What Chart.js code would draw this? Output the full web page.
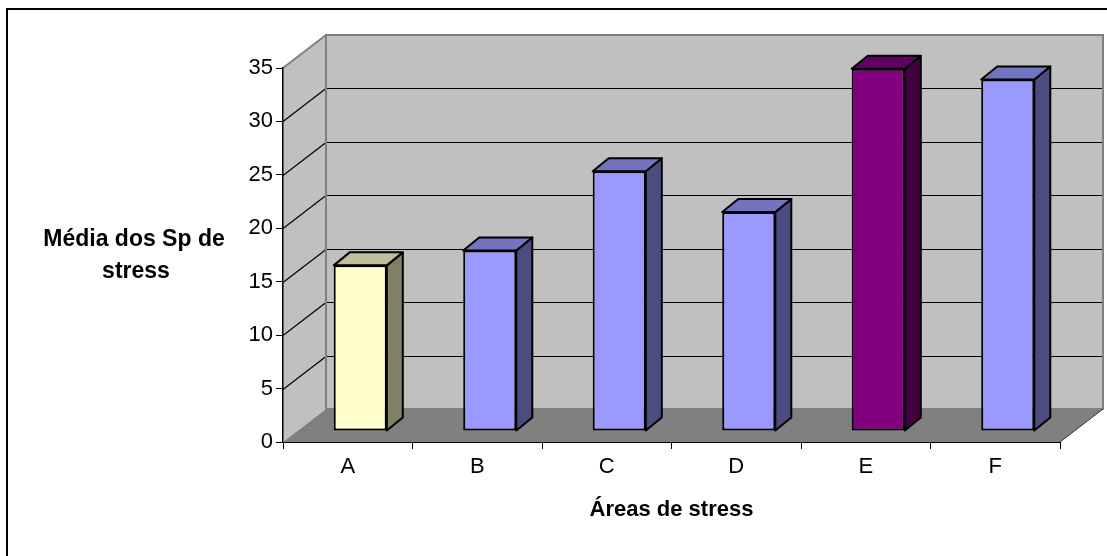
<!DOCTYPE html>
<html>
<head>
<meta charset="utf-8">
<script src="https://cdn.jsdelivr.net/npm/chart.js@4.4.1/dist/chart.umd.min.js"></script>
<style>
  html, body { margin: 0; padding: 0; background: #fff; }
  #wrap { width: 1107px; height: 556px; }
</style>
</head>
<body>
<div id="wrap"><canvas id="chart" width="1107" height="556"></canvas></div>
<script>
const categories = ['A', 'B', 'C', 'D', 'E', 'F']
const values = [15.5, 16.9, 24.3, 20.5, 33.9, 32.9]
const yTicks = [0, 5, 10, 15, 20, 25, 30, 35]
const xTitle = 'Áreas de stress'
const yTitle = ['Média dos Sp de', 'stress']

// face colours: front / right side / top
const frontColors = ['#ffffcc', '#9999ff', '#9999ff', '#9999ff', '#800080', '#9999ff']
const sideColors = ['#808066', '#4c4c80', '#4c4c80', '#4c4c80', '#400040', '#4c4c80']
const topColors = ['#bfbf99', '#7373bf', '#7373bf', '#7373bf', '#600060', '#7373bf']

const FONT = "'Liberation Sans', Arial, sans-serif"
const wall = { dx: 43, dy: -33 }
const barFront = { dx: 12.5, dy: -11 }
const barBack = { dx: 28.5, dy: -24 }

function poly(ctx, pts, fill, stroke, lw) {
  ctx.beginPath()
  ctx.moveTo(pts[0][0], pts[0][1])
  for (let i = 1; i < pts.length; i++) ctx.lineTo(pts[i][0], pts[i][1])
  ctx.closePath()
  if (fill) {
    ctx.fillStyle = fill
    ctx.fill()
  }
  if (stroke) {
    ctx.strokeStyle = stroke
    ctx.lineWidth = lw || 1
    ctx.stroke()
  }
}

function line(ctx, x1, y1, x2, y2, color, lw) {
  ctx.beginPath()
  ctx.moveTo(x1, y1)
  ctx.lineTo(x2, y2)
  ctx.strokeStyle = color
  ctx.lineWidth = lw || 1
  ctx.stroke()
}

const box3d = {
  id: 'box3d',
  beforeDraw(chart) {
    const { ctx, chartArea: a, scales } = chart
    const y = scales.y
    const L = a.left, R = a.right
    const T = y.getPixelForValue(yTicks[yTicks.length - 1])
    const B = y.getPixelForValue(0)
    const dx = wall.dx, dy = wall.dy

    ctx.save()
    // outer frame, right and bottom sides fall outside the picture
    ctx.strokeStyle = '#000'
    ctx.lineWidth = 2
    ctx.strokeRect(7, 9, 1120, 570)

    // back wall, left wall, floor
    poly(ctx, [[L + dx, T + dy], [R + dx, T + dy], [R + dx, B + dy], [L + dx, B + dy]], '#c0c0c0')
    poly(ctx, [[L, T], [L + dx, T + dy], [L + dx, B + dy], [L, B]], '#c0c0c0')
    poly(ctx, [[L, B], [L + dx, B + dy], [R + dx, B + dy], [R, B]], '#808080')

    // gridlines on both walls
    yTicks.forEach(v => {
      if (v === 0 || v === yTicks[yTicks.length - 1]) return
      const py = Math.round(y.getPixelForValue(v)) + 0.5
      line(ctx, L + dx, py + dy, R + dx, py + dy, '#000', 1.2)
      line(ctx, L, py, L + dx, py + dy, '#000', 1.2)
    })

    // wall edges
    line(ctx, L, T, L + dx, T + dy, '#808080', 2)
    poly(ctx, [[L + dx, T + dy], [R + dx, T + dy], [R + dx, B + dy], [L + dx, B + dy]], null, '#808080', 2)
    line(ctx, R, B, R + dx, B + dy, '#333', 1)
    ctx.restore()
  },
  beforeDatasetsDraw(chart) {
    const { ctx } = chart
    const meta = chart.getDatasetMeta(0)
    ctx.save()
    ctx.lineJoin = 'round'
    meta.data.forEach((el, i) => {
      const p = el.getProps(['x', 'y', 'base', 'width'], true)
      const l = p.x - p.width / 2, r = p.x + p.width / 2
      const t = p.y, b = p.base
      const f = barFront, k = barBack
      poly(ctx, [[r + f.dx, t + f.dy], [r + k.dx, t + k.dy], [r + k.dx, b + k.dy], [r + f.dx, b + f.dy]], sideColors[i], '#000', 2)
      poly(ctx, [[l + f.dx, t + f.dy], [l + k.dx, t + k.dy], [r + k.dx, t + k.dy], [r + f.dx, t + f.dy]], topColors[i], '#000', 2)
    })
    ctx.restore()
    // front faces are drawn by Chart.js, pushed back into the box
    ctx.save()
    ctx.translate(barFront.dx, barFront.dy)
  },
  afterDatasetsDraw(chart) {
    chart.ctx.restore()
  },
  afterDraw(chart) {
    const { ctx } = chart
    ctx.save()
    ctx.fillStyle = '#000'
    ctx.font = 'bold 23px ' + FONT
    ctx.textAlign = 'center'
    ctx.textBaseline = 'alphabetic'
    ctx.fillText(yTitle[0], 134, 246)
    ctx.fillText(yTitle[1], 136, 278)
    ctx.restore()
  }
}

new Chart(document.getElementById('chart'), {
  type: 'bar',
  data: {
    labels: categories,
    datasets: [{
      data: values,
      backgroundColor: frontColors,
      borderColor: '#000',
      borderWidth: 2,
      borderSkipped: false,
      barPercentage: 0.41,
      categoryPercentage: 1
    }]
  },
  options: {
    responsive: false,
    animation: false,
    events: [],
    clip: false,
    layout: { padding: { top: 68, right: 47, left: 0, bottom: 0 } },
    plugins: {
      legend: { display: false },
      tooltip: { enabled: false }
    },
    scales: {
      x: {
        ticks: { color: '#000', font: { family: FONT, size: 22 }, padding: 5 },
        grid: { offset: true, drawOnChartArea: false, color: '#000', tickLength: 7 },
        border: { color: '#000', width: 1 },
        title: {
          display: true,
          text: xTitle,
          color: '#000',
          font: { family: FONT, size: 22, weight: 'bold' },
          padding: { top: 0, bottom: 33 }
        },
        afterFit(s) { s.height = 114 }
      },
      y: {
        min: 0,
        max: 35,
        afterBuildTicks(s) { s.ticks = yTicks.map(v => ({ value: v })) },
        ticks: { color: '#000', font: { family: FONT, size: 22 }, padding: 3 },
        grid: { drawOnChartArea: false, color: '#000', tickLength: 7 },
        border: { color: '#000', width: 1.5 },
        afterFit(s) { s.width = 283 }
      }
    }
  },
  plugins: [box3d]
})
</script>
</body>
</html>
